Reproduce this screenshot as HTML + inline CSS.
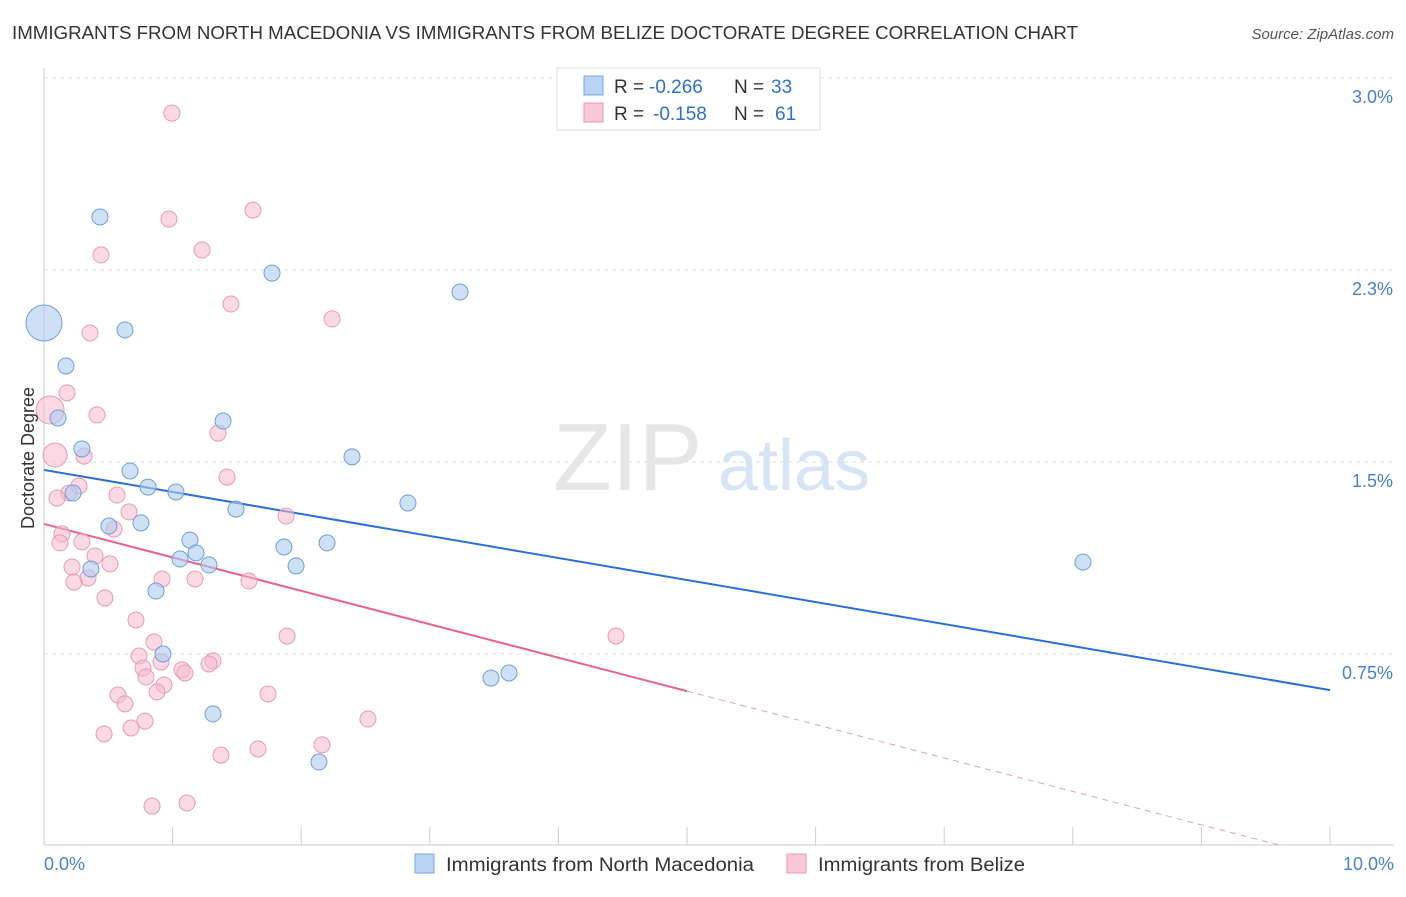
<!DOCTYPE html>
<html><head><meta charset="utf-8"><style>
body{margin:0;background:#fff;font-family:"Liberation Sans",sans-serif;}
svg text{font-family:"Liberation Sans",sans-serif;}
</style></head><body>
<svg id="chart" width="1406" height="892">
<text x="12" y="39" font-size="18" fill="#333" textLength="1066" lengthAdjust="spacingAndGlyphs">IMMIGRANTS FROM NORTH MACEDONIA VS IMMIGRANTS FROM BELIZE DOCTORATE DEGREE CORRELATION CHART</text>
<text x="1394" y="39" font-size="15" fill="#555" text-anchor="end" font-style="italic">Source: ZipAtlas.com</text>
<g id="grid"></g>
<g id="axes"></g>
<text x="553" y="490" font-size="96" fill="#e6e6e6" font-family="Liberation Serif">ZIP</text>
<text x="718" y="490" font-size="72" fill="#d6e4f5">atlas</text>
<g id="trends"></g>
<g id="points"></g>
<text transform="translate(34,458) rotate(-90)" font-size="18" fill="#333" text-anchor="middle">Doctorate Degree</text>
<g>
<rect x="557" y="68" width="263" height="62" fill="#fff" stroke="#ddd"/>
<rect x="584" y="76" width="19" height="19" fill="#b9d3f3" stroke="#7aa6e0"/>
<text x="614" y="93" font-size="19" fill="#333">R =</text>
<text x="649" y="93" font-size="19" fill="#2f6fd0">-0.266</text>
<text x="734" y="93" font-size="19" fill="#333">N =</text>
<text x="771" y="93" font-size="19" fill="#2f6fd0">33</text>
<rect x="584" y="103" width="19" height="19" fill="#f9c8d6" stroke="#e89ab3"/>
<text x="614" y="120" font-size="19" fill="#333">R =</text>
<text x="653" y="120" font-size="19" fill="#2f6fd0">-0.158</text>
<text x="734" y="120" font-size="19" fill="#333">N =</text>
<text x="775" y="120" font-size="19" fill="#2f6fd0">61</text>
</g>
<g>
<rect x="415" y="854" width="19" height="19" fill="#b9d3f3" stroke="#7aa6e0"/>
<text x="446" y="871" font-size="19" fill="#333" textLength="308" lengthAdjust="spacingAndGlyphs">Immigrants from North Macedonia</text>
<rect x="787" y="854" width="19" height="19" fill="#f9c8d6" stroke="#e89ab3"/>
<text x="818" y="871" font-size="19" fill="#333" textLength="207" lengthAdjust="spacingAndGlyphs">Immigrants from Belize</text>
</g>
</svg>
<script>
const yTicks=[0.75,1.5,2.25,3.0];
const yTickLabels=["0.75%","1.5%","2.3%","3.0%"];
const xTicks=[0,1,2,3,4,5,6,7,8,9,10];
const xEndLabels=["0.0%","10.0%"];
const blueX=[0,0.435,1.773,3.235,0.630,0.171,0.109,1.392,0.295,2.395,0.669,0.809,1.026,0.226,2.830,1.493,0.505,0.754,1.135,1.866,2.201,1.058,1.182,1.283,1.960,0.365,0.871,8.079,0.925,3.476,3.616,1.314,2.138];
const blueY=[2.043,2.457,2.238,2.164,2.016,1.875,1.672,1.660,1.551,1.520,1.465,1.402,1.383,1.379,1.340,1.316,1.250,1.262,1.195,1.168,1.184,1.121,1.145,1.098,1.094,1.082,0.996,1.109,0.750,0.656,0.676,0.516,0.328];
const blueSize=[18,8,8,8,8,8,8,8,8,8,8,8,8,8,8,8,8,8,8,8,8,8,8,8,8,8,8,8,8,8,8,8,8];
const pinkX=[0.995,0.972,1.625,1.229,0.443,1.454,2.240,0.358,0.179,0.047,0.412,1.353,0.086,0.311,0.272,1.423,0.194,0.568,0.101,0.661,1.882,0.140,0.544,0.124,0.295,0.397,0.218,0.513,0.342,0.233,0.918,1.174,1.594,0.474,0.715,0.855,1.890,4.448,0.739,0.770,0.910,1.073,1.096,1.314,1.283,0.793,0.933,0.879,1.742,0.575,0.630,0.785,0.677,2.519,0.467,1.664,2.162,1.376,0.840,1.112];
const pinkY=[2.863,2.449,2.484,2.328,2.309,2.117,2.059,2.004,1.770,1.703,1.684,1.613,1.527,1.523,1.406,1.441,1.379,1.371,1.359,1.305,1.289,1.219,1.238,1.184,1.188,1.133,1.090,1.102,1.047,1.031,1.043,1.043,1.035,0.969,0.883,0.797,0.820,0.820,0.742,0.695,0.719,0.688,0.676,0.723,0.711,0.660,0.629,0.602,0.594,0.590,0.555,0.488,0.461,0.496,0.438,0.379,0.395,0.355,0.156,0.168];
const pinkSize=[8,8,8,8,8,8,8,8,8,14,8,8,12,8,8,8,8,8,8,8,8,8,8,8,8,8,8,8,8,8,8,8,8,8,8,8,8,8,8,8,8,8,8,8,8,8,8,8,8,8,8,8,8,8,8,8,8,8,8,8];
const blueTrend=[1.469,0.609];
const pinkTrend=[1.258,-0.048];
const pinkSolidEnd=5;
const NS="http://www.w3.org/2000/svg";
const X0=44,X1=1330,Y0=845;
function sx(v){return X0+(v/10)*(X1-X0);}
function sy(v){return 654-(v-0.75)*256;}
function mk(tag,attrs,parent){const e=document.createElementNS(NS,tag);for(const k in attrs)e.setAttribute(k,attrs[k]);document.getElementById(parent).appendChild(e);return e;}
yTicks.forEach((t,i)=>{
 const g=mk('line',{x1:X0,x2:1394,y1:sy(t),y2:sy(t),stroke:'#ddd','stroke-dasharray':'4,4'},'grid');
 
 
 const l=mk('text',{x:1393,y:sy(t)+25,'font-size':18,fill:'#4a7fd6','text-anchor':'end'},'axes');
 l.textContent=yTickLabels[i];
 
 
});
const xa=mk('line',{x1:X0,x2:1394,y1:Y0,y2:Y0,stroke:'#ccc'},'axes');


const ya=mk('line',{x1:X0,x2:X0,y1:68,y2:Y0,stroke:'#ccc'},'axes');


xTicks.forEach(t=>{
 const k=mk('line',{x1:sx(t),x2:sx(t),y1:Y0,y2:Y0-18,stroke:'#ccc'},'axes');
 
 
});
const l0=mk('text',{x:44,y:870,'font-size':18,fill:'#4a7fd6'},'axes');l0.textContent=xEndLabels[0];


const l1=mk('text',{x:1394,y:870,'font-size':18,fill:'#4a7fd6','text-anchor':'end'},'axes');l1.textContent=xEndLabels[1];


function pf(x){return pinkTrend[0]+(pinkTrend[1]-pinkTrend[0])*x/10;}
const bt=mk('line',{x1:sx(0),y1:sy(blueTrend[0]),x2:sx(10),y2:sy(blueTrend[1]),stroke:'#2a6fd6','stroke-width':2},'trends');


const pt=mk('line',{x1:sx(0),y1:sy(pf(0)),x2:sx(pinkSolidEnd),y2:sy(pf(pinkSolidEnd)),stroke:'#e8628f','stroke-width':2},'trends');


let xe=10; if(pf(10)<0) xe=10*pinkTrend[0]/(pinkTrend[0]-pinkTrend[1]);
const pd=mk('line',{x1:sx(pinkSolidEnd),y1:sy(pf(pinkSolidEnd)),x2:sx(xe),y2:sy(pf(xe)),stroke:'#e8a0b8','stroke-width':1,'stroke-dasharray':'6,5'},'trends');


pinkX.forEach((v,i)=>{
 const c=mk('circle',{cx:sx(v),cy:sy(pinkY[i]),r:pinkSize[i],fill:'rgba(247,185,205,0.55)',stroke:'#e89ab3','stroke-width':1},'points');
 
 
});
blueX.forEach((v,i)=>{
 const c=mk('circle',{cx:sx(v),cy:sy(blueY[i]),r:blueSize[i],fill:'rgba(174,203,240,0.6)',stroke:'#6f9fdc','stroke-width':1},'points');
 
 
});
</script>
</body></html>
